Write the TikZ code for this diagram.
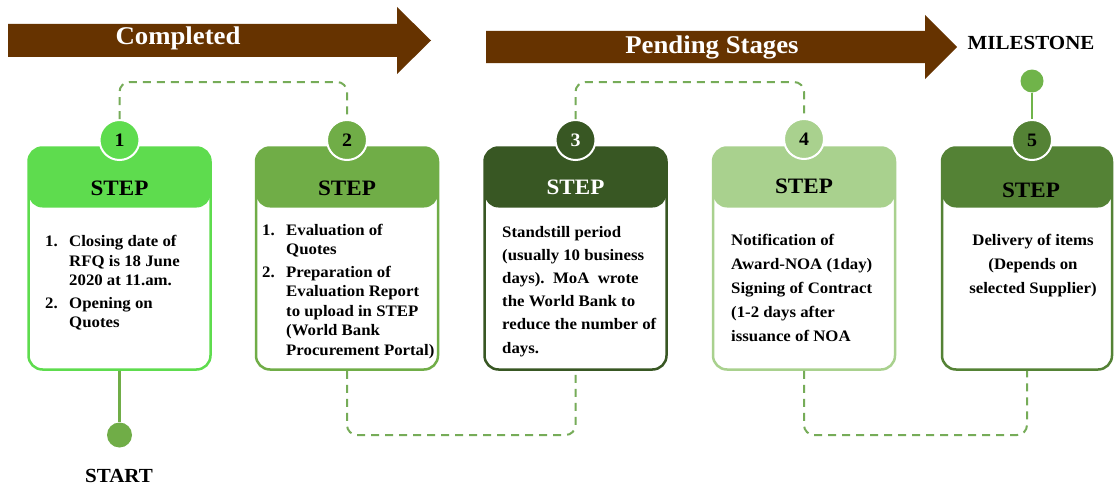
\documentclass[tikz,border=0pt]{standalone}
\usepackage{fontspec}
\setmainfont{Liberation Serif}[FakeStretch=1.05]
\definecolor{cOne}{RGB}{94,220,78}
\definecolor{cTwo}{RGB}{112,173,71}
\definecolor{cThree}{RGB}{56,87,35}
\definecolor{cFour}{RGB}{169,209,142}
\definecolor{cFive}{RGB}{84,130,53}
\definecolor{brownarr}{RGB}{102,51,0}
\definecolor{dashgreen}{RGB}{118,172,88}
\definecolor{msgreen}{RGB}{112,180,74}
\begin{document}
\begin{tikzpicture}[x=1pt,y=-1pt,
  stepbox/.style={draw=#1, line width=2.5pt, rounded corners=14pt,
    minimum width=182pt, minimum height=222pt, inner sep=0pt, fill=white,
    path picture={\fill[#1] (path picture bounding box.north west) rectangle ([yshift=-60pt]path picture bounding box.north east);}},
  numcirc/.style={circle, fill=#1, draw=white, line width=2pt, minimum size=40pt,
    inner sep=0pt, font=\fontsize{19}{19}\selectfont\bfseries},
  steplabel/.style={anchor=base, font=\fontsize{22}{22}\selectfont\bfseries},
  bodytext/.style={anchor=base west, inner sep=0pt, font=\fontsize{16}{23.2}\selectfont\bfseries},
  arrowtext/.style={anchor=base, text=white, font=\fontsize{25.5}{25.5}\selectfont\bfseries},
  dashcon/.style={draw=dashgreen, line width=2pt, dash pattern=on 8pt off 6pt, rounded corners=10pt},
  solidcon/.style={draw=cTwo, line width=2.5pt},
  endlabel/.style={anchor=base, font=\fontsize{20}{20}\selectfont\bfseries}
]
\useasboundingbox[fill=white] (0,0) rectangle (1115,487);

% banner arrows
\fill[brownarr] (8,24) -- (397,24) -- (397,7) -- (431,40.5) -- (397,74) -- (397,57) -- (8,57) -- cycle;
\fill[brownarr] (486,31) -- (925,31) -- (925,15) -- (957,47) -- (925,79) -- (925,63) -- (486,63) -- cycle;
\node[arrowtext] (lc) at (178,45) {Completed};
\node[arrowtext] (lp) at (712,53) {Pending Stages};

% helper levels
\coordinate (ytop) at (0,82);
\coordinate (ybot) at (0,435);

% boxes
\node[stepbox=cOne] (b1) at (119.5,258.5) {};
\node[stepbox=cTwo] (b2) at (347,258.5) {};
\node[stepbox=cThree] (b3) at (575.5,258.5) {};
\node[stepbox=cFour] (b4) at (804,258.5) {};
\node[stepbox=cFive, minimum width=170pt] (b5) at (1027,258.5) {};

% number circles
\node[numcirc=cOne] (n1) at (119.5,140) {1};
\node[numcirc=cTwo] (n2) at (347,140) {2};
\node[numcirc=cThree, text=white] (n3) at (575.5,140) {3};
\node[numcirc=cFour] (n4) at (804,139) {4};
\node[numcirc=cFive] (n5) at (1032,140) {5};

% dashed connectors
\draw[dashcon] (n1.north) -- (n1.north |- ytop) -- (n2.north |- ytop) -- (n2.north);
\draw[dashcon] (b2.south) -- (b2.south |- ybot) -- (b3.south |- ybot) -- (b3.south);
\draw[dashcon] (n3.north) -- (n3.north |- ytop) -- (n4.north |- ytop) -- (n4.north);
\draw[dashcon] (b4.south) -- (b4.south |- ybot) -- (b5.south |- ybot) -- (b5.south);

% start and milestone
\node[circle, fill=cTwo, minimum size=25pt, inner sep=0pt] (start) at (119.5,435) {};
\draw[solidcon] (b1.south) -- (start.north);
\node[endlabel] (startlbl) at (119,482) {START};
\node[circle, fill=msgreen, minimum size=23pt, inner sep=0pt] (ms) at (1032,81) {};
\draw[solidcon, draw=msgreen] (ms.south) -- (n5.north);
\node[endlabel] (mslbl) at (1031,50) {MILESTONE};

% step labels
\node[steplabel] (s1) at (119.5,195) {STEP};
\node[steplabel] (s2) at (347,195) {STEP};
\node[steplabel, text=white] (s3) at (575.5,194) {STEP};
\node[steplabel] (s4) at (804,193) {STEP};
\node[steplabel] (s5) at (1031,197) {STEP};

% body texts
\node[bodytext, font=\fontsize{16}{19.5}\selectfont\bfseries] (t1) at (45,246.5)
  {\begin{tabular}[t]{@{}p{24pt}@{}l@{}}1. & Closing date of\\ & RFQ is 18 June\\ & 2020 at 11.am.\\[3pt] 2. & Opening on\\ & Quotes\end{tabular}};
\node[bodytext, font=\fontsize{16}{19.5}\selectfont\bfseries] (t2) at (262,235)
  {\begin{tabular}[t]{@{}p{24pt}@{}l@{}}1. & Evaluation of\\ & Quotes\\[3pt] 2. & Preparation of\\ & Evaluation Report\\ & to upload in STEP\\ & (World Bank\\ & Procurement Portal)\end{tabular}};
\node[bodytext] (t3) at (502,237)
  {\begin{tabular}[t]{@{}l@{}}Standstill period\\ (usually 10 business\\ days).\ \ MoA\ \ wrote\\ the World Bank to\\ reduce the number of\\ days.\end{tabular}};
\node[bodytext, font=\fontsize{16}{24.2}\selectfont\bfseries] (t4) at (731,245)
  {\begin{tabular}[t]{@{}l@{}}Notification of\\ Award-NOA (1day)\\ Signing of Contract\\ (1-2 days after\\ issuance of NOA\end{tabular}};
\node[bodytext, anchor=base, font=\fontsize{16}{24}\selectfont\bfseries] (t5) at (1033,245)
  {\begin{tabular}[t]{@{}c@{}}Delivery of items\\ (Depends on\\ selected Supplier)\end{tabular}};
\end{tikzpicture}
\end{document}
